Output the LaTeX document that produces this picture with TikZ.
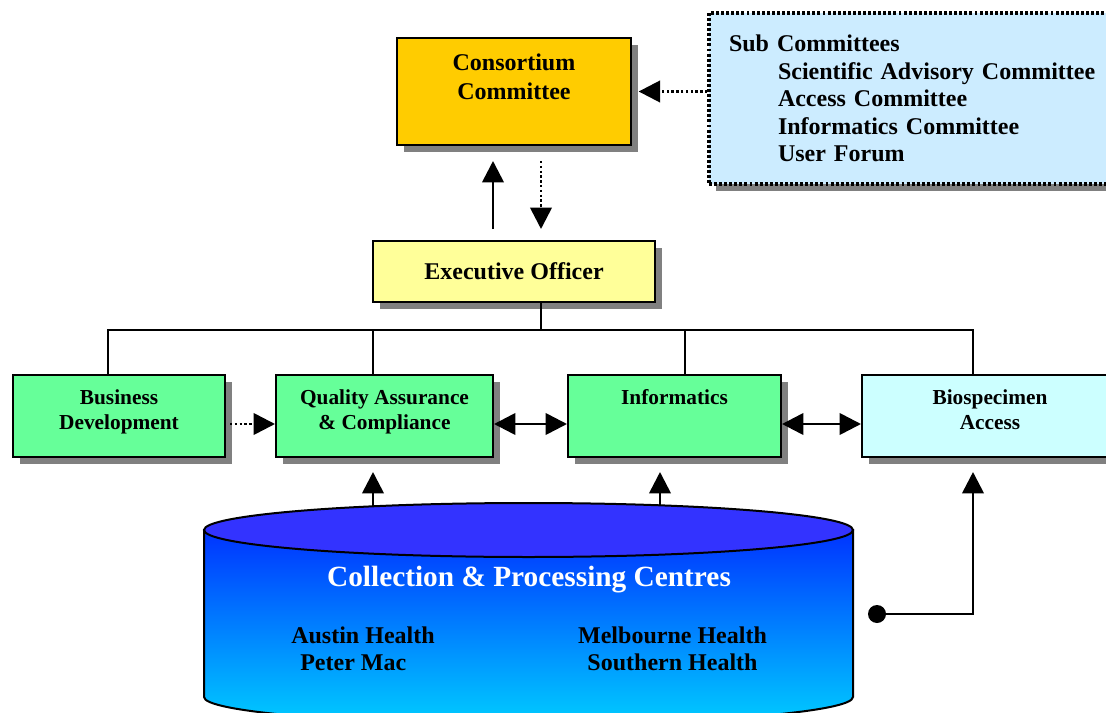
\documentclass[tikz,border=0pt]{standalone}
\usepackage{fontspec}
\setmainfont{Liberation Serif}
\usetikzlibrary{arrows.meta,shadows}

\definecolor{ccorange}{RGB}{255,204,0}
\definecolor{subblue}{RGB}{204,236,255}
\definecolor{eoyellow}{RGB}{255,255,153}
\definecolor{unitgreen}{RGB}{102,255,153}
\definecolor{biocyan}{RGB}{204,255,255}
\definecolor{cpctop}{RGB}{51,51,255}
\definecolor{cpcdark}{RGB}{0,51,255}
\definecolor{cpclight}{RGB}{0,204,255}
\definecolor{shadowgray}{RGB}{128,128,128}

\newcommand{\bigfont}{\fontsize{18}{21.75}\selectfont\bfseries}
\newcommand{\subfont}{\fontsize{18}{20.6}\selectfont\bfseries}
\newcommand{\unitfont}{\fontsize{16}{18.75}\selectfont\bfseries}

\tikzset{
  box/.style={draw,line width=1.5pt,inner sep=0pt,
    drop shadow={shadow xshift=5.25pt,shadow yshift=-5.25pt,fill=shadowgray,opacity=1}},
  unit/.style={box,minimum height=61.5pt},
  toplbl/.style={anchor=north,align=center,inner sep=0pt,inner ysep=11.5pt,font=\unitfont},
  link/.style={line width=2pt},
  arr/.style={link,-{Triangle[length=16pt,width=16pt]}},
  dotarr/.style={arr,dash pattern=on 1.8pt off 1.8pt},
  dblarr/.style={link,{Triangle[length=16pt,width=16pt]}-{Triangle[length=16pt,width=16pt]}},
  dotnode/.style={circle,fill=black,inner sep=0pt,minimum size=13.5pt}
}

\begin{document}
\begin{tikzpicture}[x=0.75pt,y=0.75pt,yscale=-1,xscale=1]
\useasboundingbox (0,0) rectangle (1106,713);

% committees
\node[box,fill=ccorange,minimum width=175.5pt,minimum height=80.25pt,
  label={[toplbl,inner ysep=12.5pt,font=\bigfont]north:Consortium\\Committee}] (CC) at (514,91.5) {};
\node[box,fill=subblue,dash pattern=on 2.2pt off 1.6pt,line width=2.4pt,minimum width=308.25pt,minimum height=128.25pt,
  inner xsep=15pt,text width=278.25pt,align=left,font=\subfont] (Sub) at (914.5,98.5)
  {Sub Committees\\
   \hspace*{36.75pt}Scientific Advisory Committee\\
   \hspace*{36.75pt}Access Committee\\
   \hspace*{36.75pt}Informatics Committee\\
   \hspace*{36.75pt}User Forum};
\node[box,fill=eoyellow,minimum width=211.5pt,minimum height=45.75pt,font=\bigfont] (EO) at (514,271.5) {Executive Officer};

% units
\node[unit,fill=unitgreen,minimum width=159pt,label={[toplbl]north:Business\\Development}] (BD) at (119,416) {};
\node[unit,fill=unitgreen,minimum width=162.75pt,label={[toplbl]north:Quality Assurance\\\& Compliance}] (QA) at (384.5,416) {};
\node[unit,fill=unitgreen,minimum width=159.75pt,label={[toplbl]north:Informatics}] (Info) at (674.5,416) {};
\node[unit,fill=biocyan,minimum width=192pt,label={[toplbl]north:Biospecimen\\Access}] (Bio) at (990,416) {};

% centres
\shade[top color=cpcdark,bottom color=cpclight,draw,line width=1.5pt]
  (204,530) -- (204,697) arc[start angle=180,end angle=0,x radius=324.5,y radius=27] -- (853,530) -- cycle;
\draw[fill=cpctop,line width=1.5pt] (528.5,530) ellipse[x radius=324.5,y radius=27];
\node[text=white,font=\fontsize{22}{26}\selectfont\bfseries] (cpcTitle) at (529,580) {Collection \& Processing Centres};
\node[align=left,font=\subfont] (cpcWest) at (363,649) {Austin Health\\\hspace*{6.75pt}Peter Mac};
\node[align=center,font=\subfont] (cpcEast) at (672.5,649) {Melbourne Health\\Southern Health};
\coordinate (cpcQA) at (373,506);
\coordinate (cpcInfo) at (660,505);
\node[dotnode] (feed) at (877,614) {};

% connectors
\draw[dotarr,shorten >=5pt] (Sub.west |- CC.east) -- (CC.east);
\draw[arr,shorten <=8.25pt,shorten >=11.25pt] ([xshift=-15.75pt]EO.north) -- ([xshift=-15.75pt]EO.north |- CC.south);
\draw[dotarr,shorten <=11.25pt,shorten >=8.25pt] ([xshift=20.25pt]EO.north |- CC.south) -- ([xshift=20.25pt]EO.north);

\coordinate (bus) at (541,330);
\draw[link] ([xshift=20.25pt]EO.south) -- (bus);
\draw[link] (bus) -| ([xshift=-8.25pt]BD.north);
\draw[link] (bus) -| ([xshift=-8.625pt]QA.north);
\draw[link] (bus) -| ([xshift=7.875pt]Info.north);
\draw[link] (bus) -| ([xshift=-12.75pt]Bio.north);

\coordinate (rowarr) at (0,424);
\draw[dotarr,shorten <=3pt] (BD.east |- rowarr) -- (QA.west |- rowarr);
\draw[dblarr] (QA.east |- rowarr) -- (Info.west |- rowarr);
\draw[dblarr] (Info.east |- rowarr) -- (Bio.west |- rowarr);

\draw[arr,shorten >=10.5pt] (cpcQA) -- (cpcQA |- QA.south);
\draw[arr,shorten >=10.5pt] (cpcInfo) -- (cpcInfo |- Info.south);
\draw[arr,shorten >=10.5pt] (feed) -| ([xshift=-12.75pt]Bio.south);
\end{tikzpicture}
\end{document}
